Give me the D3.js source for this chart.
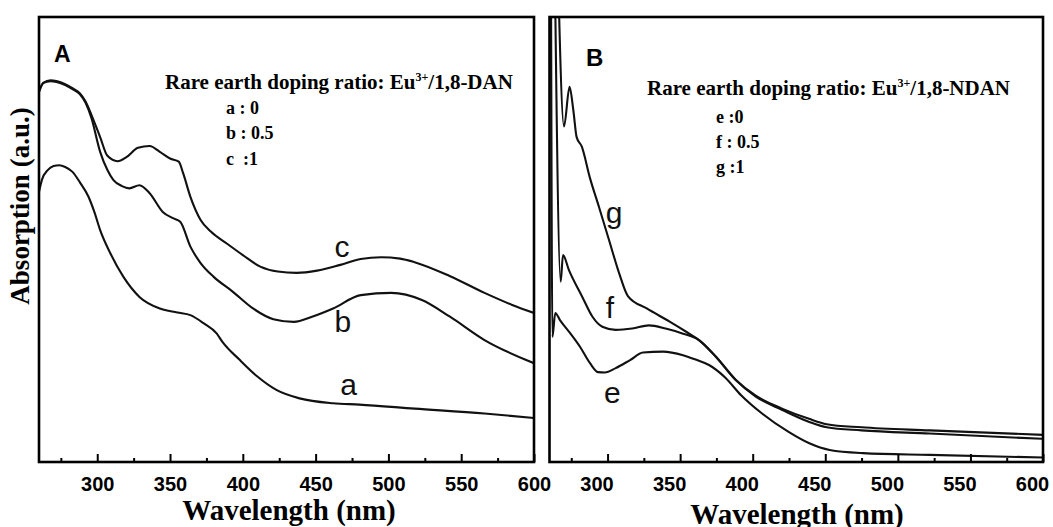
<!DOCTYPE html>
<html>
<head>
<meta charset="utf-8">
<script src="https://cdn.jsdelivr.net/npm/d3@7"></script>
<style>
  html, body { margin: 0; padding: 0; background: #fff; }
  svg { display: block; }
</style>
</head>
<body>
<svg id="chart" width="1053" height="527"></svg>
<script>
// ---------------- data ----------------
const xTicks = [300, 350, 400, 450, 500, 550, 600];
const xMinorTicks = [275, 325, 375, 425, 475, 525, 575];

// Panel A (Eu3+/1,8-DAN)
const aNm  = [260,262,266,270,274,278,283,288,294,298,302,309,318,329,343,355,364,373,382,386,398,410,423,439,462,480,518,566,600];
const aVal = [0.607,0.634,0.656,0.665,0.667,0.663,0.652,0.629,0.596,0.562,0.521,0.469,0.416,0.371,0.345,0.336,0.330,0.312,0.289,0.270,0.229,0.192,0.162,0.143,0.132,0.129,0.120,0.109,0.099];

const bNm  = [260,263,268,272,278,283,288,292,296,302,307,311,317,322,329,336,345,352,357,364,371,380,393,407,421,435,448,462,481,502,523,542,566,600];
const bVal = [0.831,0.852,0.856,0.854,0.847,0.838,0.827,0.807,0.773,0.697,0.656,0.634,0.620,0.615,0.622,0.604,0.562,0.548,0.540,0.484,0.447,0.416,0.383,0.345,0.321,0.315,0.327,0.345,0.375,0.380,0.364,0.327,0.274,0.222];

const cNm  = [260,263,268,272,278,283,288,292,296,302,307,314,320,328,336,343,350,356,359,364,371,378,389,400,412,424,437,451,467,481,495,508,518,542,566,585,600];
const cVal = [0.834,0.852,0.858,0.856,0.849,0.840,0.829,0.810,0.780,0.730,0.688,0.676,0.685,0.706,0.710,0.697,0.682,0.675,0.649,0.596,0.544,0.518,0.491,0.465,0.439,0.428,0.425,0.430,0.443,0.456,0.460,0.457,0.449,0.418,0.380,0.353,0.335];

// Panel B (Eu3+/1,8-NDAN) — first points are off-scale (clipped)
const eNm  = [261,262,264,267.2,274.1,281,287.9,293.4,298.2,305.6,315.5,324.4,338.2,352,361.6,369.9,381,392,406,425,439,453,476,522,600];
const eVal = [1.15,0.281,0.335,0.319,0.290,0.259,0.222,0.202,0.201,0.211,0.229,0.246,0.248,0.240,0.229,0.218,0.190,0.150,0.110,0.067,0.042,0.027,0.020,0.016,0.010];

const fNm  = [263.5,267.7,269.3,273.4,282.6,289.5,296.4,305.6,317,328.5,340,351.5,363,374.5,388.3,402.1,420.4,439,451,475,522,600];
const fVal = [1.15,0.405,0.465,0.431,0.371,0.327,0.304,0.297,0.300,0.307,0.300,0.289,0.274,0.237,0.184,0.147,0.117,0.090,0.078,0.071,0.064,0.052];

const gNm  = [265.5,270,273.8,276.4,278.7,282.2,287.9,294.1,301,307.9,314,327,342.5,355,363,374.5,388.3,402.1,420.2,438.8,451,475,522,600];
const gVal = [1.15,0.754,0.843,0.791,0.730,0.709,0.638,0.573,0.499,0.425,0.373,0.345,0.316,0.291,0.274,0.237,0.185,0.149,0.120,0.097,0.085,0.078,0.071,0.061];

const legendTitles = ["Rare earth doping ratio: Eu", "Rare earth doping ratio: Eu"];
const legendSuffix = ["/1,8-DAN", "/1,8-NDAN"];
const legendA = ["a : 0", "b : 0.5", "c  :1"];
const legendB = ["e :0", "f : 0.5", "g :1"];
const panelNames = ["A", "B"];

// ---------------- drawing ----------------
const svg = d3.select("#chart");
svg.append("rect").attr("width", 1053).attr("height", 527).attr("fill", "#fff");

const SERIF = "'Liberation Serif','Times New Roman',serif";
const SANS = "'Liberation Sans',Arial,sans-serif";

const panels = [
  { left: 39, right: 534, top: 17, bottom: 462, tickDx: 0,
    series: [[aNm, aVal], [bNm, bVal], [cNm, cVal]],
    labels: [["c", 463, 0.461], ["b", 463, 0.293], ["a", 467, 0.151]],
    legend: legendA, legendX: 165, legendItemX: 226, legendY: [89, 113.5, 139, 164.5],
    titleCx: 289, titleY: 520, letterX: 54, letterY: 62, letterSize: 23 },
  { left: 549.5, right: 1043, top: 17, bottom: 462, tickDx: -11,
    series: [[eNm, eVal], [fNm, fVal], [gNm, gVal]],
    labels: [["g", 298.7, 0.536], ["f", 298.7, 0.323], ["e", 297.5, 0.132]],
    legend: legendB, legendX: 647, legendItemX: 716, legendY: [95, 123, 148, 173],
    titleCx: 797, titleY: 524, letterX: 586, letterY: 66, letterSize: 24 }
];

panels.forEach((p, i) => {
  const x = d3.scaleLinear().domain([260, 600]).range([p.left, p.right]);
  const y = d3.scaleLinear().domain([0, 1]).range([p.bottom, p.top]);
  const g = svg.append("g");

  const clipId = "clip" + i;
  svg.append("clipPath").attr("id", clipId)
    .append("rect").attr("x", p.left).attr("y", p.top)
    .attr("width", p.right - p.left).attr("height", p.bottom - p.top);

  // curves
  const line = d3.line().x(d => x(d[0])).y(d => y(d[1])).curve(d3.curveMonotoneX);
  const cg = g.append("g").attr("clip-path", `url(#${clipId})`);
  p.series.forEach(([nm, val]) => {
    const pts = d3.range(Math.min(nm.length, val.length)).map(k => [nm[k], val[k]]);
    cg.append("path").attr("d", line(pts))
      .attr("fill", "none").attr("stroke", "#111").attr("stroke-width", 2.1)
      .attr("stroke-linejoin", "round");
  });

  // axis: major ticks
  const axMaj = d3.axisBottom(x).tickValues(xTicks).tickFormat(d3.format("d"))
    .tickSizeInner(-8).tickSizeOuter(0).tickPadding(14.5);
  const ga = g.append("g").attr("transform", `translate(0,${p.bottom})`).call(axMaj);
  ga.select(".domain").remove();
  ga.selectAll(".tick line").attr("stroke", "#000").attr("stroke-width", 2);
  ga.selectAll(".tick text").attr("fill", "#000").attr("dx", p.tickDx)
    .style("font-family", SANS).style("font-weight", "bold").style("font-size", "20px");

  const axMin = d3.axisBottom(x).tickValues(xMinorTicks).tickFormat("")
    .tickSizeInner(-4).tickSizeOuter(0);
  const gm = g.append("g").attr("transform", `translate(0,${p.bottom})`).call(axMin);
  gm.select(".domain").remove();
  gm.selectAll(".tick line").attr("stroke", "#000").attr("stroke-width", 2);

  // frame
  g.append("rect").attr("x", p.left).attr("y", p.top)
    .attr("width", p.right - p.left).attr("height", p.bottom - p.top)
    .attr("fill", "none").attr("stroke", "#000").attr("stroke-width", 2.6);

  // x title
  g.append("text").attr("x", p.titleCx).attr("y", p.titleY)
    .attr("text-anchor", "middle")
    .style("font-family", SERIF).style("font-weight", "bold").style("font-size", "29px")
    .text("Wavelength (nm)");

  // panel letter
  g.append("text").attr("x", p.letterX).attr("y", p.letterY)
    .style("font-family", SANS).style("font-weight", "bold")
    .style("font-size", p.letterSize + "px").text(panelNames[i]);

  // legend
  const lt = g.append("text").attr("x", p.legendX).attr("y", p.legendY[0])
    .style("font-family", SERIF).style("font-weight", "bold").style("font-size", "21px");
  lt.append("tspan").text(legendTitles[i]);
  lt.append("tspan").attr("dy", -8).style("font-size", "12px").text("3+");
  lt.append("tspan").attr("dy", 8).text(legendSuffix[i]);
  p.legend.forEach((s, k) => {
    g.append("text").attr("x", p.legendItemX).attr("y", p.legendY[k + 1])
      .attr("xml:space", "preserve")
      .style("font-family", SERIF).style("font-weight", "bold").style("font-size", "18px")
      .style("white-space", "pre")
      .text(s);
  });

  // curve letters
  p.labels.forEach(([t, nm, v]) => {
    g.append("text").attr("x", x(nm)).attr("y", y(v))
      .style("font-family", SANS).style("font-size", "30px").attr("fill", "#111")
      .text(t);
  });
});

// y title
svg.append("text")
  .attr("transform", "translate(29,206) rotate(-90)")
  .attr("text-anchor", "middle")
  .style("font-family", SERIF).style("font-weight", "bold").style("font-size", "27px")
  .text("Absorption (a.u.)");
</script>
</body>
</html>
